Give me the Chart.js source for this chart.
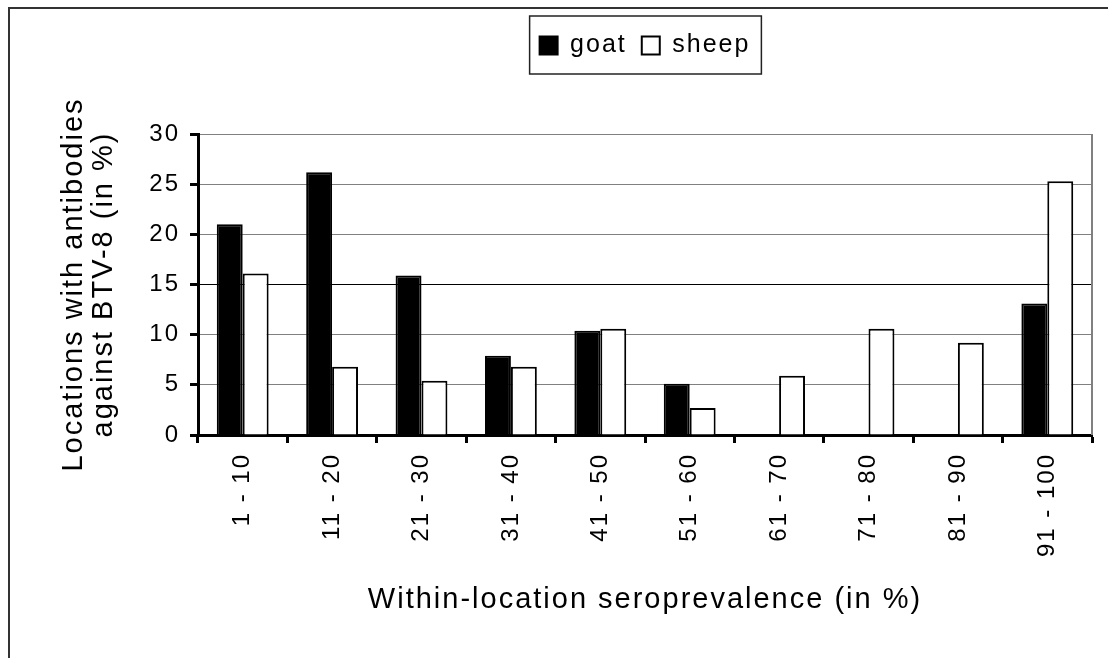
<!DOCTYPE html>
<html>
<head>
<meta charset="utf-8">
<title>BTV-8 seroprevalence</title>
<script src="https://cdn.jsdelivr.net/npm/chart.js@4.4.1/dist/chart.umd.min.js"></script>
<style>
    html, body { margin: 0; padding: 0; background: #fff; overflow: hidden; }
    #wrap { position: relative; width: 1108px; height: 658px; }
    #frame {
        position: absolute; left: 8px; top: 7px; width: 1300px; height: 900px;
        border-left: 2px solid #333; border-top: 2px solid #333; pointer-events: none;
    }
    canvas { display: block; }
</style>
</head>
<body>
<div id="wrap">
    <canvas id="chart" width="1108" height="658"></canvas>
    <div id="frame"></div>
</div>
<script>
    // --- Données ---
    const categories = ['1 - 10', '11 - 20', '21 - 30', '31 - 40', '41 - 50',
                        '51 - 60', '61 - 70', '71 - 80', '81 - 90', '91 - 100'];
    const goat  = [21.0, 26.2, 15.9, 7.9, 10.4, 5.1, 0, 0, 0, 13.1];
    const sheep = [16.1, 6.8, 5.4, 6.8, 10.6, 2.7, 5.9, 10.6, 9.2, 25.3];
    const yTicks = [0, 5, 10, 15, 20, 25, 30];

    const FONT = "'Liberation Sans', Arial, sans-serif";
    Chart.defaults.font.family = FONT;
    Chart.defaults.color = '#000';

    // Espacement des lettres (le modèle est très aéré)
    const spacing = {
        id: 'spacing',
        beforeLayout(chart) { chart.ctx.letterSpacing = '2px'; },
        beforeDraw(chart) { chart.ctx.letterSpacing = '2px'; }
    };

    // La légende reste en haut de la figure, loin de la zone de tracé
    const legendPlace = {
        id: 'legendPlace',
        afterLayout(chart) {
            const lg = chart.legend;
            if (!lg) return;
            const h = lg.height;
            lg.top = 18;
            lg.bottom = 18 + h;
        }
    };

    // Bord droit gris de la zone de tracé
    const plotEdge = {
        id: 'plotEdge',
        afterDraw(chart) {
            const { ctx, chartArea: a } = chart;
            ctx.save();
            ctx.strokeStyle = '#808080';
            ctx.lineWidth = 2;
            ctx.beginPath();
            ctx.moveTo(a.right, a.top);
            ctx.lineTo(a.right, a.bottom);
            ctx.stroke();
            ctx.restore();
        }
    };

    // Cadre autour de la légende
    const legendFrame = {
        id: 'legendFrame',
        afterDraw(chart) {
            const boxes = chart.legend && chart.legend.legendHitBoxes;
            if (!boxes || !boxes.length) return;
            const left = Math.min(...boxes.map(b => b.left)) - 10;
            const right = Math.max(...boxes.map(b => b.left + b.width)) + 11;
            const top = boxes[0].top - 17;
            const bottom = boxes[0].top + boxes[0].height + 16;
            const ctx = chart.ctx;
            ctx.save();
            ctx.strokeStyle = '#222';
            ctx.lineWidth = 1.5;
            ctx.strokeRect(left, top, right - left, bottom - top);
            ctx.restore();
        }
    };

    new Chart(document.getElementById('chart'), {
        type: 'bar',
        data: {
            labels: categories,
            datasets: [
                { label: 'goat', data: goat, backgroundColor: '#000',
                  borderColor: '#000', borderWidth: 2 },
                { label: 'sheep', data: sheep, backgroundColor: '#fff',
                  borderColor: '#000', borderWidth: 2 }
            ]
        },
        options: {
            responsive: false,
            animation: false,
            events: [],
            categoryPercentage: 0.58,
            barPercentage: 1.0,
            layout: { padding: { top: 18, right: 16, left: 0, bottom: 0 } },
            plugins: {
                tooltip: { enabled: false },
                legend: {
                    position: 'top',
                    fullSize: false,
                    align: 'center',
                    labels: {
                        font: { size: 25 },
                        boxWidth: 18,
                        boxHeight: 18,
                        padding: 15,
                        color: '#000'
                    }
                }
            },
            scales: {
                x: {
                    grid: {
                        offset: true,
                        drawOnChartArea: false,
                        tickLength: 8,
                        tickWidth: 3,
                        tickColor: '#000'
                    },
                    border: { color: '#000', width: 3 },
                    ticks: {
                        minRotation: 90,
                        maxRotation: 90,
                        autoSkip: false,
                        padding: 10,
                        font: { size: 24 }
                    },
                    title: {
                        display: true,
                        text: 'Within-location seroprevalence (in %)',
                        font: { size: 29 },
                        padding: { top: 0, bottom: 41 }
                    },
                    afterFit(scale) {
                        scale.height = 223;
                        scale.paddingLeft = 0;
                        scale.paddingRight = 0;
                    }
                },
                y: {
                    min: 0,
                    max: 30,
                    afterBuildTicks(scale) {
                        scale.ticks = yTicks.map(v => ({ value: v }));
                    },
                    grid: {
                        color: c => (c.tick && c.tick.value === 15 ? '#000' : '#808080'),
                        lineWidth: 1,
                        tickLength: 8,
                        tickWidth: 3,
                        tickColor: '#000'
                    },
                    border: { color: '#000', width: 3 },
                    ticks: { padding: 10, font: { size: 24 } },
                    title: {
                        display: true,
                        text: ['Locations with antibodies', 'against BTV-8 (in %)'],
                        font: { size: 29, lineHeight: 1.04 },
                        padding: { top: 59, bottom: 0 }
                    },
                    afterFit(scale) {
                        scale.width = 198;
                        scale.paddingTop = 134;
                    }
                }
            }
        },
        plugins: [spacing, legendPlace, plotEdge, legendFrame]
    });
</script>
</body>
</html>
